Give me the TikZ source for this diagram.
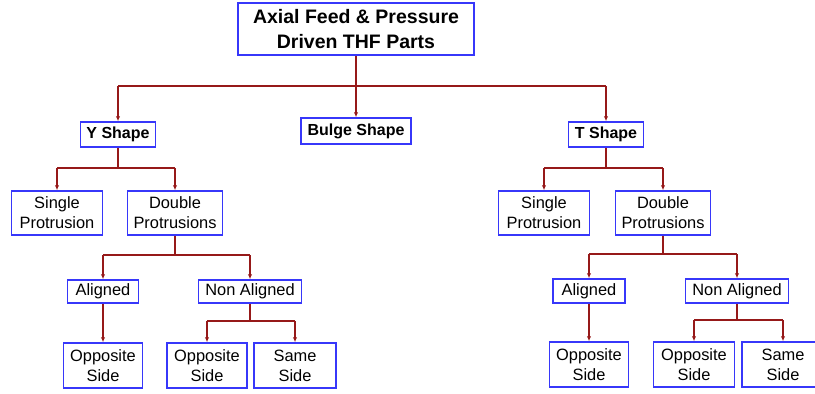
\documentclass[tikz,border=0pt]{standalone}
\usepackage{fontspec}
\setmainfont{Liberation Sans}
\usetikzlibrary{arrows.meta}
\definecolor{boxblue}{RGB}{55,55,250}
\definecolor{linered}{RGB}{150,25,25}
\tikzset{
  box/.style={draw=boxblue, line width=1.5pt, fill=white, inner sep=0pt, align=center,
    font=\fontsize{16.4}{20}\selectfont},
  bbox/.style={box, font=\fontsize{16}{19}\selectfont\bfseries, text height=11.5pt, text depth=3.5pt},
  topbox/.style={box, font=\fontsize{19.5}{25}\selectfont\bfseries},
  bus/.style={draw=linered, line width=1.1pt},
  arr/.style={draw=linered, line width=2pt, -{Latex[length=5pt,width=4.5pt]}},
}
\begin{document}
\begin{tikzpicture}[x=1pt,y=-1pt]
\useasboundingbox (0,0) rectangle (815,394);
\clip (0,0) rectangle (815,394);
% nodes
\node[topbox, minimum width=236pt, minimum height=52pt] (root) at (356,29) {Axial Feed \& Pressure\\Driven THF Parts};
\node[bbox, minimum width=110pt, minimum height=26pt] (bulge) at (356,131) {Bulge Shape};
\node[bbox, minimum width=75pt, minimum height=25pt] (Y) at (118,134.5) {Y Shape};
\node[bbox, minimum width=75pt, minimum height=25pt] (T) at (606,134.5) {T Shape};
% Y side
\node[box, minimum width=91pt, minimum height=44pt] (ys) at (57,213) {Single\\Protrusion};
\node[box, minimum width=95pt, minimum height=44pt] (yd) at (175,213) {Double\\Protrusions};
\node[box, minimum width=71pt, minimum height=23pt] (ya) at (103,291.5) {Aligned};
\node[box, minimum width=103pt, minimum height=23pt] (yn) at (250,291.5) {Non Aligned};
\node[box, minimum width=79pt, minimum height=45pt] (yo1) at (103,365.5) {Opposite\\Side};
\node[box, minimum width=80pt, minimum height=45pt] (yo2) at (207,365.5) {Opposite\\Side};
\node[box, minimum width=82pt, minimum height=45pt] (yss) at (295,365.5) {Same\\Side};
% T side
\node[box, minimum width=91pt, minimum height=44pt] (ts) at (544,213) {Single\\Protrusion};
\node[box, minimum width=95pt, minimum height=44pt] (td) at (663,213) {Double\\Protrusions};
\node[box, minimum width=72pt, minimum height=24pt] (ta) at (589,291) {Aligned};
\node[box, minimum width=103pt, minimum height=24pt] (tn) at (737,291) {Non Aligned};
\node[box, minimum width=79pt, minimum height=45pt] (to1) at (589,364.5) {Opposite\\Side};
\node[box, minimum width=81pt, minimum height=45pt] (to2) at (694,364.5) {Opposite\\Side};
\node[box, minimum width=82pt, minimum height=45pt] (tss) at (783,364.5) {Same\\Side};
% bus coordinates
\coordinate (rbus) at (356,86);
\coordinate (ybus) at (118,168);
\coordinate (tbus) at (606,168);
\coordinate (ydbus) at (175,255);
\coordinate (tdbus) at (663,254);
\coordinate (ynbus) at (250,321);
\coordinate (tnbus) at (737,320);
% root level
\draw[bus] (Y.north |- rbus) -- (T.north |- rbus);
\draw[arr] (root.south) -- (bulge.north);
\draw[arr] (Y.north |- rbus) -- (Y.north);
\draw[arr] (T.north |- rbus) -- (T.north);
% Y shape
\draw[bus] (Y.south) -- (ybus);
\draw[bus] (ys.north |- ybus) -- (yd.north |- ybus);
\draw[arr] (ys.north |- ybus) -- (ys.north);
\draw[arr] (yd.north |- ybus) -- (yd.north);
\draw[bus] (yd.south) -- (ydbus);
\draw[bus] (ya.north |- ydbus) -- (yn.north |- ydbus);
\draw[arr] (ya.north |- ydbus) -- (ya.north);
\draw[arr] (yn.north |- ydbus) -- (yn.north);
\draw[arr] (ya.south) -- (yo1.north);
\draw[bus] (yn.south) -- (ynbus);
\draw[bus] (yo2.north |- ynbus) -- (yss.north |- ynbus);
\draw[arr] (yo2.north |- ynbus) -- (yo2.north);
\draw[arr] (yss.north |- ynbus) -- (yss.north);
% T shape
\draw[bus] (T.south) -- (tbus);
\draw[bus] (ts.north |- tbus) -- (td.north |- tbus);
\draw[arr] (ts.north |- tbus) -- (ts.north);
\draw[arr] (td.north |- tbus) -- (td.north);
\draw[bus] (td.south) -- (tdbus);
\draw[bus] (ta.north |- tdbus) -- (tn.north |- tdbus);
\draw[arr] (ta.north |- tdbus) -- (ta.north);
\draw[arr] (tn.north |- tdbus) -- (tn.north);
\draw[arr] (ta.south) -- (to1.north);
\draw[bus] (tn.south) -- (tnbus);
\draw[bus] (to2.north |- tnbus) -- (tss.north |- tnbus);
\draw[arr] (to2.north |- tnbus) -- (to2.north);
\draw[arr] (tss.north |- tnbus) -- (tss.north);
\end{tikzpicture}
\end{document}
